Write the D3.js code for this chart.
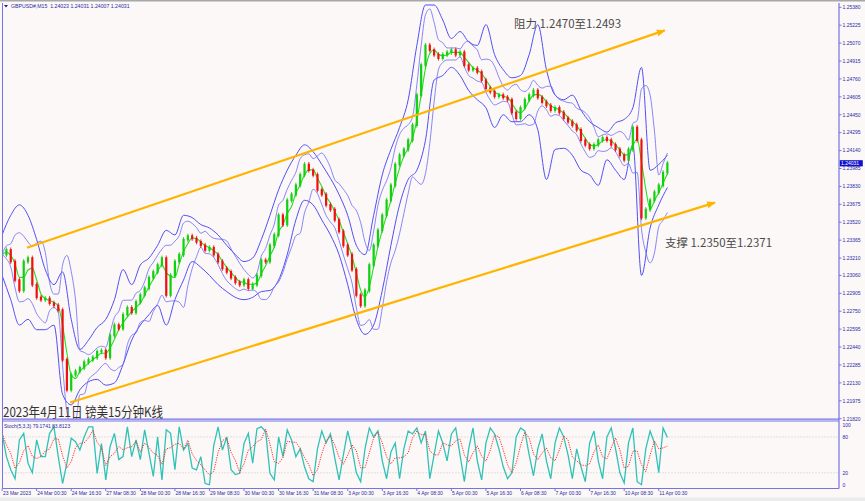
<!DOCTYPE html>
<html><head><meta charset="utf-8">
<script src="https://cdn.jsdelivr.net/npm/d3@7"></script>
<style>
html,body{margin:0;padding:0;background:#fcf8f7;overflow:hidden}
svg{display:block}
</style></head><body>
<svg id="c" width="865" height="501"></svg>
<script>
// ---------- data ----------
const symbolInfo = "GBPUSD#,M15  1.24023 1.24031 1.24007 1.24031";
const barStep = 8;          // one close every 8 M15 bars
const bandStep = 16;        // band values every 16 bars
const closes = [1.2324,1.2328,1.2318,1.2302,1.2293,1.2318,1.2321,1.2298,1.2287,1.2285,
1.2286,1.2282,1.2280,1.2276,1.2233,1.2207,1.2220,1.2223,1.2226,1.2231,
1.2233,1.2235,1.2240,1.2241,1.2235,1.2254,1.2263,1.2260,1.2272,1.2278,
1.2274,1.2283,1.2289,1.2295,1.2304,1.2309,1.2315,1.2321,1.2289,1.2306,
1.2318,1.2324,1.2337,1.2340,1.2338,1.2335,1.2332,1.2328,1.2330,1.2324,
1.2318,1.2312,1.2309,1.2304,1.2300,1.2298,1.2302,1.2295,1.2298,1.2306,
1.2319,1.2318,1.2332,1.2341,1.2358,1.2350,1.2371,1.2376,1.2384,1.2393,
1.2402,1.2397,1.2393,1.2380,1.2376,1.2367,1.2363,1.2354,1.2344,1.2332,
1.2324,1.2311,1.2289,1.2280,1.2293,1.2315,1.2332,1.2345,1.2358,1.2371,
1.2384,1.2402,1.2410,1.2415,1.2423,1.2436,1.2462,1.2488,1.2505,1.2501,
1.2497,1.2494,1.2497,1.2499,1.2501,1.2497,1.2499,1.2488,1.2484,1.2485,
1.2482,1.2475,1.2468,1.2465,1.2461,1.2462,1.2460,1.2458,1.2447,1.2442,
1.2451,1.2458,1.2462,1.2466,1.2460,1.2456,1.2453,1.2449,1.2451,1.2447,
1.2442,1.2439,1.2436,1.2432,1.2423,1.2419,1.2416,1.2419,1.2423,1.2425,
1.2423,1.2419,1.2415,1.2410,1.2406,1.2415,1.2434,1.2423,1.2356,1.2363,
1.2371,1.2378,1.2384,1.2395,1.2403];
const bandUpper = [1.2341,1.2358,1.2367,1.2358,1.2337,1.2311,1.2298,1.2309,1.2268,1.2242,
1.2250,1.2261,1.2268,1.2285,1.2311,1.2298,1.2315,1.2321,1.2332,1.2345,
1.2341,1.2358,1.2356,1.2350,1.2347,1.2341,1.2332,1.2324,1.2318,1.2321,
1.2337,1.2358,1.2380,1.2397,1.2410,1.2419,1.2413,1.2402,1.2390,1.2376,
1.2358,1.2332,1.2324,1.2358,1.2393,1.2415,1.2434,1.2458,1.2505,1.2540,
1.2540,1.2527,1.2511,1.2517,1.2508,1.2505,1.2523,1.2497,1.2484,1.2477,
1.2479,1.2497,1.2523,1.2484,1.2462,1.2458,1.2462,1.2449,1.2439,1.2434,
1.2430,1.2438,1.2441,1.2451,1.2486,1.2397,1.2402,1.2410];
const bandLower = [1.2306,1.2285,1.2263,1.2268,1.2259,1.2259,1.2263,1.2203,1.2194,1.2207,
1.2214,1.2216,1.2211,1.2213,1.2229,1.2250,1.2263,1.2272,1.2280,1.2263,
1.2285,1.2302,1.2318,1.2313,1.2306,1.2298,1.2292,1.2287,1.2285,1.2287,
1.2292,1.2293,1.2302,1.2324,1.2354,1.2371,1.2367,1.2354,1.2341,1.2324,
1.2298,1.2268,1.2255,1.2263,1.2293,1.2332,1.2367,1.2389,1.2397,1.2423,
1.2475,1.2479,1.2486,1.2479,1.2466,1.2458,1.2451,1.2434,1.2445,1.2439,
1.2439,1.2445,1.2432,1.2389,1.2415,1.2416,1.2410,1.2397,1.2393,1.2384,
1.2406,1.2397,1.2389,1.2419,1.2306,1.2347,1.2367,1.2382];
const stochMain = [86,47,25,10,75,86,36,20,75,47,
47,86,97,47,2,36,78,72,58,80,
97,97,19,69,8,64,86,42,47,97,
47,75,42,92,53,14,80,8,92,86,
25,97,58,69,28,25,47,2,0,66,
97,58,80,25,17,19,69,86,36,94,
97,89,19,8,80,47,92,75,47,60,
30,10,5,60,90,70,85,45,8,50,
90,60,20,5,60,95,80,90,40,10,
55,70,10,60,90,85,95,70,90,10,
50,90,70,40,85,95,50,5,60,95,
40,8,70,95,85,60,30,10,20,80,
95,90,50,15,60,85,40,10,70,95,
80,50,10,60,30,5,70,90,40,10,
80,95,60,20,3,70,95,5,0,60,
90,70,20,95,79];
const stochInfo = "Stoch(5,3,3) 79.1741 83.8123";
const priceTicks = ["1.25380","1.25225","1.25070","1.24915","1.24760","1.24605","1.24450","1.24295",
"1.24140","1.23985","1.23830","1.23675","1.23520","1.23365","1.23210","1.23060","1.22905",
"1.22750","1.22595","1.22440","1.22285","1.22130","1.21975","1.21820"];
const stochTicks = [100,80,20,0];
const stochLevels = [80,20];
const timeLabels = ["23 Mar 2023","24 Mar 00:30","24 Mar 16:30","27 Mar 08:30","28 Mar 00:30",
"28 Mar 16:30","29 Mar 08:30","30 Mar 00:30","30 Mar 16:30","31 Mar 08:30","3 Apr 00:30",
"3 Apr 16:30","4 Apr 08:30","5 Apr 00:30","5 Apr 16:30","6 Apr 08:30","7 Apr 00:30",
"7 Apr 16:30","10 Apr 08:30","11 Apr 00:30"];
const barsPerLabel = 64;
const lastPrice = 1.24031;
const titleText = "2023年4月11日 镑美15分钟K线";
const resistText = "阻力 1.2470至1.2493";
const supportText = "支撑 1.2350至1.2371";
// channel lines: [bar index, price]
const upperChannel = [[46,1.2330],[1227,1.2518]];
const lowerChannel = [[126,1.2196],[1320,1.2369]];

// ---------- drawing ----------
const svg = d3.select("#c");
const W = 865, H = 501;
const L = 2.5, R = 839, T = 3, B = 419, SB = 488.5;
const nBars = (closes.length-1)*barStep;
const x = d3.scaleLinear().domain([0, nBars]).range([2.1, 667.4]);
const y = d3.scaleLinear().domain([1.2182, 1.2538]).range([418.7, 7.3]);
const ys = d3.scaleLinear().domain([0,100]).range([484.7, 425]);
const axisBlue = "#7474e4", textBlue = "#2a2aa6";

svg.append("rect").attr("width",W).attr("height",H).attr("fill","#fcf8f7");
svg.append("rect").attr("x",0).attr("y",0).attr("width",W).attr("height",1.5).attr("fill","#a8a8a8");
svg.append("rect").attr("x",0).attr("y",497.5).attr("width",W).attr("height",4).attr("fill","#ececec");

const defs = svg.append("defs");
defs.append("clipPath").attr("id","main").append("rect").attr("x",L).attr("y",T).attr("width",R-L).attr("height",B-T);
defs.append("clipPath").attr("id","sto").append("rect").attr("x",L).attr("y",421).attr("width",R-L).attr("height",SB-421);
defs.append("marker").attr("id","arr").attr("viewBox","0 0 10 10").attr("refX",9).attr("refY",5)
  .attr("markerWidth",4).attr("markerHeight",4).attr("orient","auto")
  .append("path").attr("d","M0,1 L10,5 L0,9 z").attr("fill","#ffb400");

const gMain = svg.append("g").attr("clip-path","url(#main)");

// outer bands (read)
const bandLine = d3.line().x((d,i)=>x(i*bandStep)).y(d=>y(d)).curve(d3.curveMonotoneX);
[bandUpper, bandLower].forEach(arr=>{
  gMain.append("path").attr("d", bandLine(arr)).attr("fill","none").attr("stroke","#4f4ff5").attr("stroke-width",1);
});

// inner Bollinger band computed from closes (5 points, 2 sd)
const inner = closes.map((c,i)=>{
  const w = closes.slice(Math.max(0,i-4), i+1);
  const m = d3.mean(w), s = w.length>1 ? d3.deviation(w) : 0;
  return {m, u: m+2*s, l: m-2*s};
});
const cl = d3.line().x((d,i)=>x(i*barStep)).curve(d3.curveMonotoneX);
gMain.append("path").attr("d", cl.y(d=>y(d.u))(inner)).attr("fill","none").attr("stroke","#6a6af8").attr("stroke-width",0.8);
gMain.append("path").attr("d", cl.y(d=>y(d.l))(inner)).attr("fill","none").attr("stroke","#6a6af8").attr("stroke-width",0.8);

// moving average (computed from closes)
const ma = closes.map((c,i)=>d3.mean(closes.slice(Math.max(0,i-2), i+1)));
gMain.append("path").attr("d", d3.line().x((d,i)=>x(i*barStep)).y(d=>y(d)).curve(d3.curveMonotoneX)(ma))
  .attr("fill","none").attr("stroke","#20e020").attr("stroke-width",1.1);

// candles: open = previous close
const candles = closes.map((c,i)=>({i, o: i? closes[i-1] : c, c}));
gMain.selectAll("line.wk").data(candles).join("line").attr("class","wk")
  .attr("x1", d=>x(d.i*barStep)).attr("x2", d=>x(d.i*barStep))
  .attr("y1", d=>Math.min(y(d.o),y(d.c))-2.5).attr("y2", d=>Math.max(y(d.o),y(d.c))+2.5)
  .attr("stroke", d=>d.c>=d.o ? "#10c010" : "#e01010").attr("stroke-width",0.8);
gMain.selectAll("rect.cd").data(candles).join("rect").attr("class","cd")
  .attr("x", d=>x(d.i*barStep)-1.1).attr("width",2.2)
  .attr("y", d=>Math.min(y(d.o),y(d.c))-0.8)
  .attr("height", d=>Math.abs(y(d.o)-y(d.c))+1.6)
  .attr("fill", d=>d.c>=d.o ? "#10d010" : "#f01010");

// channel lines
const chLine = d3.line().x(d=>x(d[0])).y(d=>y(d[1]));
[upperChannel, lowerChannel].forEach(c=>{
  svg.append("path").attr("d", chLine(c)).attr("stroke","#ffb400").attr("stroke-width",2.2)
    .attr("fill","none").attr("marker-end","url(#arr)");
});

// annotation texts
const cjk = "'Noto Sans CJK SC','Noto Sans',sans-serif";
svg.append("text").attr("x",514).attr("y",28).text(resistText).attr("font-family",cjk)
  .attr("font-size",11.5).attr("fill","#4a4a4a").attr("textLength",107).attr("lengthAdjust","spacingAndGlyphs");
svg.append("text").attr("x",665).attr("y",246.5).text(supportText).attr("font-family",cjk)
  .attr("font-size",11.5).attr("fill","#4a4a4a").attr("textLength",107).attr("lengthAdjust","spacingAndGlyphs");
svg.append("text").attr("x",3).attr("y",417).text(titleText).attr("font-family",cjk)
  .attr("font-size",13.5).attr("fill","#333").attr("textLength",160).attr("lengthAdjust","spacingAndGlyphs");

// header
svg.append("path").attr("d","M4,5 L8,5 L6,7.5 z").attr("fill","#1a1a9a");
const small = "'Liberation Sans',Arial,sans-serif";
svg.append("text").attr("x",11).attr("y",8).text(symbolInfo).attr("font-family",small).attr("font-size",5.2)
  .attr("fill",textBlue).attr("xml:space","preserve");

// frames
svg.append("line").attr("x1",L).attr("x2",L).attr("y1",T).attr("y2",SB).attr("stroke",axisBlue).attr("stroke-width",1);
svg.append("line").attr("x1",R).attr("x2",R).attr("y1",T).attr("y2",SB).attr("stroke",axisBlue).attr("stroke-width",1.2);
svg.append("line").attr("x1",L).attr("x2",R).attr("y1",419.2).attr("y2",419.2).attr("stroke",axisBlue).attr("stroke-width",1.3);
svg.append("line").attr("x1",L).attr("x2",R).attr("y1",421).attr("y2",421).attr("stroke",axisBlue).attr("stroke-width",1);
svg.append("line").attr("x1",L).attr("x2",R).attr("y1",SB).attr("y2",SB).attr("stroke",axisBlue).attr("stroke-width",1.2);

// price axis
const pa = svg.append("g");
priceTicks.forEach(t=>{
  const v = +t, yy = y(v);
  pa.append("line").attr("x1",R).attr("x2",R+2.5).attr("y1",yy).attr("y2",yy).attr("stroke",axisBlue);
  pa.append("text").attr("x",R+3.5).attr("y",yy+1.8).text(t).attr("font-family",small).attr("font-size",5)
    .attr("fill",textBlue);
});
pa.append("rect").attr("x",R+0.8).attr("y",y(lastPrice)-3).attr("width",23).attr("height",6.2).attr("fill","#1010c8");
pa.append("text").attr("x",R+2).attr("y",y(lastPrice)+1.8).text(lastPrice.toFixed(5)).attr("font-family",small)
  .attr("font-size",5).attr("fill","#fff");

// stochastic panel
const gs = svg.append("g").attr("clip-path","url(#sto)");
stochLevels.forEach(l=>{
  gs.append("line").attr("x1",L).attr("x2",R).attr("y1",ys(l)).attr("y2",ys(l)).attr("stroke","#bdbdbd")
    .attr("stroke-width",0.8).attr("stroke-dasharray","1,2");
});
const sig = stochMain.map((v,i)=>d3.mean(stochMain.slice(Math.max(0,i-2), i+1)));
const sl = d3.line().x((d,i)=>x(i*barStep)).y(d=>ys(d));
gs.append("path").attr("d", sl(stochMain)).attr("fill","none").attr("stroke","#2fc2b6").attr("stroke-width",1.3);
gs.append("path").attr("d", sl(sig)).attr("fill","none").attr("stroke","#ff2a2a").attr("stroke-width",1)
  .attr("stroke-dasharray","1.2,1.2");
svg.append("text").attr("x",4).attr("y",427.5).text(stochInfo).attr("font-family",small).attr("font-size",5)
  .attr("fill",textBlue);
stochTicks.forEach(t=>{
  svg.append("text").attr("x",R+3.5).attr("y",ys(t)+1.8).text(t).attr("font-family",small).attr("font-size",5)
    .attr("fill",textBlue);
});

// time axis
timeLabels.forEach((lab,i)=>{
  const xx = x(i*barsPerLabel);
  svg.append("line").attr("x1",xx).attr("x2",xx).attr("y1",SB).attr("y2",SB+2.5).attr("stroke",axisBlue);
  svg.append("text").attr("x", i===0 ? 3 : xx+0.5).attr("y",494.5).text(lab).attr("font-family",small)
    .attr("font-size",5).attr("fill",textBlue);
});
</script>
</body></html>
